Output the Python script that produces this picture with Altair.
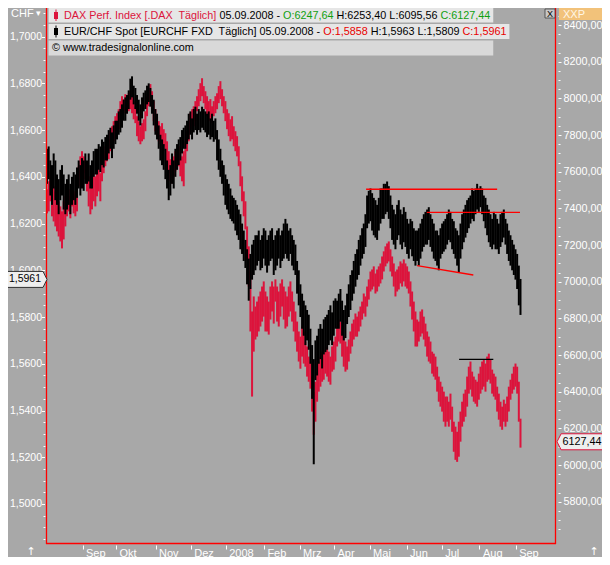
import altair as alt
import pandas as pd

# ---------------- data ----------------
months = ["Sep", "Okt", "Nov", "Dez", "2008", "Feb", "Mrz", "Apr", "Mai", "Jun", "Jul", "Aug", "Sep"]
month_pos = [21.3, 41.4, 65.1, 86.2, 107.2, 130.1, 151.5, 172.1, 193.5, 215.7, 236.7, 259.4, 281.1]

chf_high = [
    1.652, 1.653, 1.647, 1.645, 1.650, 1.647, 1.641, 1.639, 1.643, 1.645, 1.641, 1.637,
    1.639, 1.641, 1.637, 1.640, 1.642, 1.641, 1.644, 1.647, 1.645, 1.648, 1.647, 1.650,
    1.647, 1.650, 1.645, 1.647, 1.651, 1.652, 1.652, 1.654, 1.653, 1.656, 1.655, 1.657,
    1.658, 1.660, 1.661, 1.659, 1.662, 1.664, 1.664, 1.668, 1.669, 1.671, 1.673, 1.674,
    1.675, 1.677, 1.682, 1.683, 1.679, 1.678, 1.675, 1.673, 1.671, 1.674, 1.676, 1.677,
    1.679, 1.680, 1.678, 1.675, 1.673, 1.669, 1.667, 1.662, 1.658, 1.656, 1.654, 1.652,
    1.647, 1.643, 1.645, 1.650, 1.647, 1.652, 1.654, 1.656, 1.657, 1.660, 1.661, 1.662,
    1.664, 1.667, 1.668, 1.665, 1.669, 1.670, 1.667, 1.669, 1.668, 1.670, 1.669, 1.668,
    1.667, 1.668, 1.665, 1.667, 1.664, 1.665, 1.660, 1.656, 1.652, 1.647, 1.645, 1.641,
    1.639, 1.637, 1.635, 1.632, 1.631, 1.630, 1.628, 1.626, 1.624, 1.620, 1.617, 1.613,
    1.609, 1.605, 1.607, 1.611, 1.613, 1.615, 1.615, 1.617, 1.613, 1.615, 1.618, 1.617,
    1.613, 1.615, 1.617, 1.618, 1.613, 1.615, 1.617, 1.618, 1.615, 1.617, 1.620, 1.622,
    1.620, 1.617, 1.618, 1.615, 1.613, 1.611, 1.604, 1.600, 1.594, 1.590, 1.587, 1.585,
    1.583, 1.581, 1.575, 1.568, 1.562, 1.570, 1.572, 1.575, 1.577, 1.575, 1.579, 1.580,
    1.581, 1.583, 1.585, 1.582, 1.587, 1.588, 1.587, 1.590, 1.592, 1.587, 1.583, 1.585,
    1.590, 1.594, 1.598, 1.600, 1.604, 1.607, 1.609, 1.613, 1.615, 1.618, 1.620, 1.624,
    1.632, 1.634, 1.635, 1.633, 1.631, 1.630, 1.628, 1.631, 1.635, 1.635, 1.637, 1.637,
    1.638, 1.636, 1.632, 1.628, 1.626, 1.624, 1.628, 1.630, 1.626, 1.624, 1.627, 1.625,
    1.622, 1.620, 1.622, 1.621, 1.618, 1.617, 1.617, 1.618, 1.620, 1.622, 1.624, 1.625,
    1.626, 1.627, 1.624, 1.622, 1.620, 1.617, 1.617, 1.615, 1.618, 1.620, 1.621, 1.622,
    1.624, 1.626, 1.625, 1.622, 1.621, 1.618, 1.617, 1.615, 1.620, 1.624, 1.626, 1.628,
    1.630, 1.631, 1.632, 1.635, 1.634, 1.635, 1.637, 1.635, 1.636, 1.635, 1.632, 1.631,
    1.628, 1.626, 1.624, 1.622, 1.625, 1.624, 1.622, 1.620, 1.624, 1.625, 1.626, 1.622,
    1.620, 1.617, 1.615, 1.613, 1.611, 1.609, 1.607, 1.602, 1.5963,
]
chf_low = [
    1.637, 1.639, 1.632, 1.628, 1.635, 1.630, 1.628, 1.624, 1.630, 1.632, 1.626, 1.624,
    1.626, 1.628, 1.624, 1.628, 1.630, 1.628, 1.631, 1.635, 1.632, 1.635, 1.634, 1.637,
    1.637, 1.638, 1.635, 1.635, 1.640, 1.641, 1.641, 1.643, 1.642, 1.645, 1.644, 1.647,
    1.647, 1.650, 1.652, 1.648, 1.652, 1.654, 1.656, 1.658, 1.659, 1.661, 1.664, 1.664,
    1.667, 1.669, 1.673, 1.674, 1.671, 1.669, 1.667, 1.664, 1.662, 1.665, 1.668, 1.669,
    1.671, 1.672, 1.670, 1.667, 1.662, 1.658, 1.656, 1.652, 1.647, 1.645, 1.643, 1.639,
    1.635, 1.630, 1.632, 1.637, 1.635, 1.640, 1.643, 1.645, 1.647, 1.650, 1.652, 1.652,
    1.654, 1.656, 1.658, 1.656, 1.659, 1.660, 1.658, 1.660, 1.659, 1.661, 1.660, 1.659,
    1.657, 1.658, 1.656, 1.657, 1.655, 1.656, 1.647, 1.643, 1.640, 1.637, 1.632, 1.628,
    1.626, 1.624, 1.622, 1.621, 1.620, 1.617, 1.615, 1.613, 1.609, 1.607, 1.604, 1.601,
    1.594, 1.587, 1.592, 1.596, 1.598, 1.600, 1.602, 1.604, 1.600, 1.601, 1.605, 1.602,
    1.599, 1.602, 1.604, 1.605, 1.598, 1.600, 1.602, 1.605, 1.601, 1.604, 1.605, 1.607,
    1.605, 1.604, 1.607, 1.602, 1.600, 1.598, 1.590, 1.585, 1.580, 1.575, 1.572, 1.568,
    1.570, 1.566, 1.560, 1.545, 1.517, 1.553, 1.555, 1.560, 1.562, 1.558, 1.564, 1.565,
    1.566, 1.568, 1.570, 1.568, 1.572, 1.575, 1.575, 1.575, 1.578, 1.572, 1.570, 1.571,
    1.577, 1.580, 1.583, 1.587, 1.590, 1.593, 1.596, 1.598, 1.602, 1.605, 1.607, 1.610,
    1.618, 1.620, 1.621, 1.617, 1.615, 1.614, 1.613, 1.617, 1.620, 1.622, 1.622, 1.624,
    1.625, 1.622, 1.618, 1.613, 1.611, 1.609, 1.613, 1.615, 1.611, 1.609, 1.612, 1.610,
    1.607, 1.605, 1.609, 1.606, 1.604, 1.602, 1.604, 1.602, 1.605, 1.608, 1.610, 1.611,
    1.611, 1.613, 1.610, 1.608, 1.605, 1.604, 1.602, 1.600, 1.605, 1.607, 1.608, 1.609,
    1.611, 1.613, 1.612, 1.609, 1.607, 1.605, 1.602, 1.599, 1.605, 1.609, 1.612, 1.614,
    1.616, 1.618, 1.620, 1.622, 1.621, 1.624, 1.626, 1.625, 1.627, 1.624, 1.621, 1.618,
    1.615, 1.612, 1.610, 1.609, 1.611, 1.609, 1.609, 1.607, 1.610, 1.612, 1.614, 1.611,
    1.607, 1.604, 1.602, 1.600, 1.598, 1.596, 1.592, 1.585, 1.5809,
]
dax_high = [
    7504, 7548, 7602, 7559, 7521, 7493, 7466, 7439, 7411, 7384, 7439, 7466,
    7493, 7504, 7466, 7521, 7493, 7482, 7548, 7630, 7684, 7712, 7684, 7657,
    7630, 7575, 7548, 7559, 7592, 7575, 7602, 7613, 7592, 7657, 7712, 7739,
    7766, 7777, 7821, 7848, 7876, 7903, 7919, 7941, 7985, 8012, 7996, 8023,
    8012, 8028, 8039, 8012, 7985, 7957, 7903, 7876, 7848, 7865, 7886, 7930,
    8012, 8050, 8078, 8039, 7985, 7941, 7903, 7876, 7848, 7865, 7832, 7810,
    7766, 7712, 7668, 7646, 7684, 7712, 7723, 7739, 7701, 7684, 7712, 7766,
    7821, 7876, 7919, 7941, 7957, 7985, 8012, 8050, 8083, 8110, 8067, 8039,
    8012, 7985, 7996, 7957, 7985, 8012, 8028, 8067, 8094, 8050, 8012, 7985,
    7941, 7919, 7886, 7903, 7848, 7821, 7794, 7739, 7657, 7575, 7493, 7439,
    7302, 7193, 7056, 6838, 6920, 6865, 6892, 6920, 6947, 6974, 7002, 6947,
    6920, 6892, 6974, 7002, 6974, 7013, 6974, 6947, 6991, 7013, 6974, 6947,
    6920, 6974, 7002, 6947, 6892, 6838, 6783, 6729, 6701, 6756, 6729, 6674,
    6647, 6592, 6565, 6483, 6401, 6455, 6510, 6565, 6592, 6619, 6608, 6630,
    6647, 6619, 6592, 6647, 6674, 6701, 6756, 6794, 6783, 6729, 6701, 6674,
    6647, 6685, 6729, 6772, 6794, 6827, 6810, 6838, 6865, 6892, 6936, 6920,
    6974, 7013, 7056, 7067, 7084, 7045, 7067, 7084, 7100, 7138, 7166, 7193,
    7209, 7220, 7177, 7138, 7100, 7056, 7067, 7084, 7111, 7100, 7122, 7100,
    7084, 7056, 7002, 6947, 6892, 6838, 6794, 6783, 6838, 6849, 6810, 6772,
    6729, 6701, 6674, 6619, 6608, 6592, 6537, 6483, 6455, 6428, 6401, 6374,
    6374, 6346, 6390, 6319, 6237, 6210, 6182, 6237, 6292, 6346, 6390, 6412,
    6483, 6537, 6565, 6510, 6483, 6466, 6455, 6499, 6537, 6565, 6576, 6554,
    6592, 6608, 6576, 6521, 6499, 6483, 6428, 6390, 6346, 6319, 6357, 6335,
    6374, 6428, 6466, 6499, 6537, 6554, 6537, 6455, 6253.40,
]
dax_low = [
    7373, 7384, 7439, 7357, 7329, 7302, 7275, 7247, 7220, 7182, 7231, 7302,
    7357, 7384, 7346, 7411, 7373, 7357, 7384, 7521, 7575, 7602, 7592, 7559,
    7493, 7411, 7368, 7395, 7439, 7411, 7466, 7493, 7439, 7548, 7592, 7630,
    7657, 7668, 7712, 7739, 7766, 7783, 7810, 7832, 7876, 7903, 7919, 7930,
    7919, 7930, 7941, 7919, 7886, 7865, 7794, 7766, 7750, 7766, 7777, 7821,
    7903, 7957, 7985, 7941, 7876, 7821, 7794, 7766, 7750, 7760, 7739, 7712,
    7657, 7592, 7548, 7537, 7575, 7602, 7613, 7630, 7575, 7548, 7521, 7646,
    7712, 7766, 7810, 7832, 7848, 7876, 7930, 7957, 7985, 8012, 7974, 7941,
    7903, 7876, 7886, 7865, 7903, 7919, 7941, 7974, 7996, 7957, 7919, 7876,
    7832, 7794, 7766, 7777, 7739, 7712, 7684, 7630, 7521, 7439, 7357, 7286,
    7122, 6974, 6729, 6374, 6619, 6685, 6701, 6729, 6756, 6783, 6810, 6729,
    6729, 6712, 6794, 6838, 6772, 6892, 6783, 6756, 6810, 6865, 6794, 6745,
    6756, 6810, 6838, 6783, 6729, 6674, 6619, 6565, 6526, 6592, 6554, 6537,
    6483, 6455, 6417, 6292, 6166, 6237, 6346, 6401, 6428, 6455, 6466, 6499,
    6483, 6455, 6439, 6510, 6521, 6565, 6647, 6674, 6663, 6592, 6537, 6510,
    6521, 6565, 6608, 6647, 6685, 6701, 6701, 6729, 6756, 6794, 6827, 6810,
    6865, 6903, 6947, 6958, 6974, 6936, 6947, 6974, 6991, 7013, 7056, 7084,
    7100, 7111, 7056, 7029, 6974, 6920, 6947, 6958, 6991, 6974, 7002, 6974,
    6963, 6936, 6865, 6794, 6729, 6647, 6647, 6674, 6701, 6718, 6685, 6647,
    6592, 6565, 6554, 6499, 6483, 6466, 6401, 6346, 6319, 6292, 6237, 6210,
    6237, 6210, 6248, 6182, 6073, 6029, 6018, 6046, 6128, 6210, 6237, 6264,
    6319, 6390, 6412, 6374, 6346, 6335, 6319, 6357, 6390, 6412, 6428, 6401,
    6455, 6466, 6445, 6390, 6374, 6357, 6292, 6248, 6210, 6193, 6237, 6210,
    6237, 6292, 6357, 6390, 6412, 6428, 6390, 6237, 6095.56,
]

# drawn trend lines (start index, end index, start value, end value)
chf_tl_x0 = [191.4, 227.8, 222.0]
chf_tl_x1 = [270.0, 283.7, 255.7]
chf_tl_v0 = [1.6347, 1.6248, 1.6020]
chf_tl_v1 = [1.6347, 1.6248, 1.5980]
dax_tl_x0 = [247.2]
dax_tl_x1 = [267.7]
dax_tl_v0 = [6577]
dax_tl_v1 = [6577]

chf_last_close = 1.5961
dax_last_close = 6127.44

# header texts (segments of one line, each with its colour)
GREEN = "#10a010"
BRIGHT_RED = "#e80000"
RED = "#dc143c"
row1 = [("DAX Perf. Index [.DAX\u00a0 Täglich]", RED), ("05.09.2008 -", "black"),
        ("O:6247,64", GREEN), ("H:6253,40 L:6095,56", "black"), ("C:6127,44", GREEN)]
row2 = [("EUR/CHF Spot [EURCHF FXD\u00a0 Täglich] 05.09.2008 -", "black"), ("O:1,5858", BRIGHT_RED),
        ("H:1,5963 L:1,5809", "black"), ("C:1,5961", BRIGHT_RED)]
row3 = [("© www.tradesignalonline.com", "black")]

# ---------------- layout ----------------
W, H = 510, 536
X_DOM = [-0.6, 305.3]
CHF_DOM = [1.48288, 1.71224]
DAX_DOM = [5570, 8493]
BG = "#a8a8a8"
FONT = "Liberation Sans"
LEG_FS = 10.8

# Arial / Liberation Sans advance widths (per 1000 em) for text layout
_AW = {" ": 278, "\u00a0": 278, ".": 278, ",": 278, ":": 278, "-": 333, "/": 278, "[": 278, "]": 278,
       "A": 667, "C": 722, "D": 722, "E": 667, "F": 611, "H": 722, "I": 278, "L": 556, "O": 778,
       "P": 667, "R": 722, "S": 667, "T": 611, "U": 722, "X": 667, "a": 556, "c": 500, "d": 556,
       "e": 556, "f": 278, "g": 556, "h": 556, "i": 222, "l": 222, "m": 833, "n": 556, "o": 556,
       "p": 556, "r": 333, "s": 500, "t": 278, "w": 722, "x": 500, "ä": 556, "©": 737}


def text_w(s, fs):
    return sum(_AW.get(c, 556) for c in s) * fs / 1000.0


n = len(chf_high)
df_chf = pd.DataFrame({"i": list(range(n)), "hi": chf_high, "lo": chf_low})
df_dax = pd.DataFrame({"i": list(range(n)), "hi": dax_high, "lo": dax_low})
df_chf_tl = pd.DataFrame({"x0": chf_tl_x0, "x1": chf_tl_x1, "v0": chf_tl_v0, "v1": chf_tl_v1})
df_dax_tl = pd.DataFrame({"x0": dax_tl_x0, "x1": dax_tl_x1, "v0": dax_tl_v0, "v1": dax_tl_v1})
one = pd.DataFrame({"k": [0]})

xscale = alt.Scale(domain=X_DOM, nice=False, zero=False)
chf_scale = alt.Scale(domain=CHF_DOM, nice=False, zero=False)
dax_scale = alt.Scale(domain=DAX_DOM, nice=False, zero=False)

lab_arr = "[" + ",".join("'%s'" % m for m in months) + "]"
pos_arr = "[" + ",".join(str(p) for p in month_pos) + "]"
xaxis = alt.Axis(values=month_pos, labelExpr=f"{lab_arr}[indexof({pos_arr}, datum.value)]",
                 tickSize=4, tickColor="white", labelColor="white", domain=False, grid=False,
                 labelAlign="left", labelBaseline="top", labelPadding=-2, labelOffset=3, offset=1,
                 labelFont=FONT, labelFontSize=11, title=None, labelOverlap=False, labelFlush=False)

chf_major = [round(k * 0.02, 2) for k in range(75, 86)]
chf_minor = [round(k * 0.005, 3) for k in range(297, 343) if k % 4 != 0]
dax_major = list(range(5800, 8401, 200))
dax_minor = [v for v in range(5600, 8451, 50) if v % 200 != 0]

left_axis = alt.Axis(orient="left", values=chf_major,
                     labelExpr="replace(format(datum.value, '.4f'), '.', ',')",
                     tickSize=3, offset=1.5, labelPadding=0, tickColor="white", labelColor="white",
                     domain=False, grid=False, title=None, labelFont=FONT, labelFontSize=10.5,
                     labelOverlap=False, labelFlush=False)
left_minor = alt.Axis(orient="left", values=chf_minor, labels=False, tickSize=2, offset=1,
                      tickColor="white", domain=False, grid=False, title=None)
right_axis = alt.Axis(orient="right", values=dax_major,
                      labelExpr="replace(format(datum.value, '.2f'), '.', ',')",
                      tickSize=3, offset=2, labelPadding=2, tickColor="white", labelColor="white",
                      domain=False, grid=False, title=None, labelFont=FONT, labelFontSize=10.8,
                      labelOverlap=False, labelFlush=False)
right_minor = alt.Axis(orient="right", values=dax_minor, labels=False, tickSize=2, offset=2,
                       tickColor="white", domain=False, grid=False, title=None)

dax_bars = alt.Chart(df_dax).mark_rule(color=RED, strokeWidth=2).encode(
    x=alt.X("i:Q", scale=xscale, axis=xaxis),
    y=alt.Y("lo:Q", scale=dax_scale, axis=right_axis),
    y2="hi:Q",
)
chf_bars = alt.Chart(df_chf).mark_rule(color="black", strokeWidth=2).encode(
    x=alt.X("i:Q", scale=xscale, axis=xaxis),
    y=alt.Y("lo:Q", scale=chf_scale, axis=left_axis),
    y2="hi:Q",
)
chf_lines = alt.Chart(df_chf_tl).mark_rule(color="#ff0000", strokeWidth=1.4).encode(
    x=alt.X("x0:Q", scale=xscale, axis=xaxis), x2="x1:Q",
    y=alt.Y("v0:Q", scale=chf_scale, axis=left_minor), y2="v1:Q",
)
dax_lines = alt.Chart(df_dax_tl).mark_rule(color="black", strokeWidth=1.4).encode(
    x=alt.X("x0:Q", scale=xscale, axis=xaxis), x2="x1:Q",
    y=alt.Y("v0:Q", scale=dax_scale, axis=right_minor), y2="v1:Q",
)


def rect(x0, x1, y0, y1, fill, stroke=None, sw=1):
    kw = dict(fill=fill)
    if stroke:
        kw.update(stroke=stroke, strokeWidth=sw)
    return alt.Chart(one).mark_rect(**kw).encode(
        x=alt.value(x0), x2=alt.value(x1), y=alt.value(y0), y2=alt.value(y1))


def rule(x0, x1, y0, y1, color, sw=1):
    return alt.Chart(one).mark_rule(color=color, strokeWidth=sw).encode(
        x=alt.value(x0), x2=alt.value(x1), y=alt.value(y0), y2=alt.value(y1))


def txt(s, x, y, color, size=11, align="left", font=FONT, baseline="middle"):
    return alt.Chart(one).mark_text(text=s, align=align, baseline=baseline, font=font,
                                    fontSize=size, color=color).encode(
        x=alt.value(x), y=alt.value(y))


def text_row(segments, x0, y):
    layers, x = [], x0
    for s, c in segments:
        layers.append(txt(s, x, y, c, size=LEG_FS))
        x += text_w(s + " ", LEG_FS)
    return layers, x - text_w(" ", LEG_FS)


r1_layers, r1_end = text_row(row1, 18, 7.5)
r2_layers, r2_end = text_row(row2, 18, 23.5)
r3_layers, r3_end = text_row(row3, 6, 40)

decor = [
    # frame
    rule(0.5, 0.5, 0, H, "#ff0000", 1.3),
    rule(W - 0.5, W - 0.5, 0, H, "#ff0000", 1.3),
    rule(0, W, H - 0.5, H - 0.5, "#ff0000", 1.3),
    # legend rows
    rect(2.6, r1_end + 3, 0, 14.5, "#e6e6e6"),
    rect(2.6, r2_end + 3, 16, 31, "#e6e6e6"),
    rect(2.6, r1_end + 3, 32.5, 47.5, "#d9d9d9"),
    rule(10, 10, 1.5, 13, RED, 1), rect(8, 12, 4, 11, RED),
    rule(10, 10, 17.5, 29.5, "black", 1), rect(8, 12, 20, 27, "black"),
    *r1_layers, *r2_layers, *r3_layers,
    # close button
    rect(499, 509, 1, 10, "#c8c8c8", "#404040", 0.8),
    txt("X", 504, 5.7, "black", size=9, align="center"),
    # axis headers
    txt("CHF", -35, 6, "white"),
    txt("▾", -10, 5, "white", size=9, font="DejaVu Sans"),
    rect(513, 556, 0, 12, "#f2c27a"),
    txt("XXP", 517, 6.5, "#fff6e6"),
    # corner arrows
    txt("↑", -15, H + 13, "white", size=11, align="center", font="DejaVu Sans", baseline="bottom"),
    txt("↑", W + 38, H + 13, "white", size=11, align="center", font="DejaVu Sans", baseline="bottom"),
]

left_path = "M 1 0 L 0.8 -0.4 L -1 -0.4 L -1 0.4 L 0.8 0.4 Z"
right_path = "M -1 0 L -0.82 -0.348 L 1 -0.348 L 1 0.348 L -0.82 0.348 Z"
df_chf_last = pd.DataFrame({"v": [chf_last_close], "t": ["1,5961"]})
df_dax_last = pd.DataFrame({"v": [dax_last_close], "t": ["6127,44"]})
chf_mark = alt.Chart(df_chf_last).mark_point(shape=left_path, size=1600, filled=True, fill="#eeeeee",
                                             stroke="#303030", strokeWidth=1, opacity=1).encode(
    x=alt.value(-19), y=alt.Y("v:Q", scale=chf_scale, axis=None))
chf_mark_t = alt.Chart(df_chf_last).mark_text(font=FONT, fontSize=10.5, color="black", align="center",
                                              baseline="middle").encode(
    x=alt.value(-21), y=alt.Y("v:Q", scale=chf_scale, axis=None), text="t:N")
dax_mark = alt.Chart(df_dax_last).mark_point(shape=right_path, size=2116, filled=True, fill="#eeeeee",
                                             stroke=RED, strokeWidth=1, opacity=1).encode(
    x=alt.value(W + 24), y=alt.Y("v:Q", scale=dax_scale, axis=None))
dax_mark_t = alt.Chart(df_dax_last).mark_text(font=FONT, fontSize=10.8, color="black", align="center",
                                              baseline="middle").encode(
    x=alt.value(W + 26), y=alt.Y("v:Q", scale=dax_scale, axis=None), text="t:N")

chart = alt.layer(
    dax_bars, chf_bars, chf_lines, dax_lines, *decor, chf_mark, chf_mark_t, dax_mark, dax_mark_t
).resolve_scale(y="independent").properties(
    width=W, height=H,
    padding={"left": 38, "top": 0, "right": 46, "bottom": 13},
    autosize=alt.AutoSizeParams(type="none"),
).configure(background=BG).configure_view(stroke=None)

chart.save("out.html", embed_options={"renderer": "svg", "actions": False})
